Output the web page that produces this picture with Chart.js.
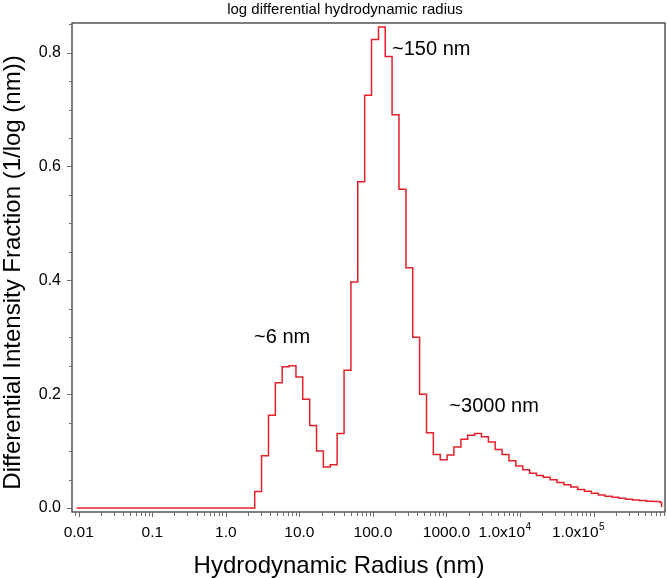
<!DOCTYPE html>
<html>
<head>
<meta charset="utf-8">
<title>log differential hydrodynamic radius</title>
<script src="https://cdn.jsdelivr.net/npm/chart.js@4"></script>
<style>
  html, body { margin: 0; padding: 0; background: #fff; }
  #chart { display: block; }
</style>
</head>
<body>
<canvas id="chart" width="667" height="578"></canvas>
<script>
// Bin start radius (nm) and the value held over that bin (step histogram)
const radius = [0.0094, 2.47, 3.06, 3.80, 4.71, 5.84, 7.24, 8.98, 11.1, 13.8, 17.1,
    21.2, 26.3, 32.6, 40.5, 50.2, 62.2, 77.2, 95.7, 119, 147,
    182, 226, 281, 348, 431, 535, 663, 822, 1020, 1260,
    1570, 1940, 2410, 2990, 3710, 4590, 5700, 7060, 8760, 10900,
    13500, 16700, 20700, 25700, 31800, 39500, 48900, 60700, 75200, 93300,
    116000, 143000, 178000, 220000, 273000, 339000, 420000, 521000, 646000, 801000,
    840000];
const intensity = [0, 0.029, 0.092, 0.163, 0.220, 0.248, 0.250, 0.230, 0.191, 0.145, 0.100,
    0.072, 0.076, 0.131, 0.242, 0.397, 0.573, 0.725, 0.823, 0.845, 0.793,
    0.691, 0.560, 0.422, 0.300, 0.200, 0.132, 0.094, 0.085, 0.093, 0.107,
    0.121, 0.128, 0.131, 0.125, 0.116, 0.103, 0.094, 0.083, 0.074, 0.067,
    0.061, 0.057, 0.054, 0.0495, 0.045, 0.041, 0.037, 0.0325, 0.0295, 0.026,
    0.0228, 0.0208, 0.019, 0.017, 0.0155, 0.0142, 0.013, 0.012, 0.0113, 0.0097,
    0.002];

const yTicks = [0, 0.2, 0.4, 0.6, 0.8];
const yTickLabels = ['0.0', '0.2', '0.4', '0.6', '0.8'];
const yMinorStep = 0.05;
const xTicks = [0.01, 0.1, 1, 10, 100, 1000, 10000, 100000];
const xTickLabels = ['0.01', '0.1', '1.0', '10.0', '100.0', '1000.0', '1.0x10', '1.0x10'];
const xTickPowers = ['', '', '', '', '', '', '4', '5'];

// peak notes, anchored in data units (left end / baseline of the text)
const noteText = ['~6 nm', '~150 nm', '~3000 nm'];
const noteX = [2.42, 182, 1094];
const noteY = [0.29, 0.796, 0.168];

const FONT = '"Liberation Sans", Arial, Helvetica, sans-serif';

// Module: frame, ticks, labels and titles
const decorPlugin = {
    id: 'decor',
    afterDraw(chart) {
        const ctx = chart.ctx;
        const area = chart.chartArea;
        const xs = chart.scales.x;
        const ys = chart.scales.y;
        ctx.save();

        // box round the plot
        ctx.strokeStyle = '#3a3a3a';
        ctx.lineWidth = 1.3;
        ctx.strokeRect(area.left, area.top, area.right - area.left, area.bottom - area.top);

        // y ticks (major + minor)
        ctx.strokeStyle = '#6a6a6a';
        ctx.lineWidth = 1;
        for (let v = 0; v <= ys.max + 1e-9; v += yMinorStep) {
            const y = Math.round(ys.getPixelForValue(v)) + 0.5;
            const major = yTicks.some(t => Math.abs(t - v) < 1e-6);
            ctx.beginPath();
            ctx.moveTo(area.left - (major ? 5 : 3), y);
            ctx.lineTo(area.left, y);
            ctx.stroke();
        }

        // x ticks, 1..9 in every decade
        for (let e = -3; e <= 6; e++) {
            for (let m = 1; m <= 9; m++) {
                const v = m * Math.pow(10, e);
                if (v < xs.min || v > xs.max) continue;
                const x = Math.round(xs.getPixelForValue(v)) + 0.5;
                ctx.beginPath();
                ctx.moveTo(x, area.bottom);
                ctx.lineTo(x, area.bottom + (m === 1 ? 5 : 4));
                ctx.stroke();
            }
        }

        // x tick labels
        ctx.fillStyle = '#000';
        ctx.textBaseline = 'alphabetic';
        xTicks.forEach((v, i) => {
            const x = xs.getPixelForValue(v);
            const y = area.bottom + 25;
            ctx.font = '15.5px ' + FONT;
            if (xTickPowers[i]) {
                ctx.textAlign = 'right';
                ctx.fillText(xTickLabels[i], x + 5, y);
                ctx.textAlign = 'left';
                ctx.font = '10px ' + FONT;
                ctx.fillText(xTickPowers[i], x + 5.5, y - 7);
            } else {
                ctx.textAlign = 'center';
                ctx.fillText(xTickLabels[i], x, y);
            }
        });

        // peak notes
        ctx.font = '20px ' + FONT;
        ctx.textAlign = 'left';
        noteText.forEach((t, i) => {
            ctx.fillText(t, xs.getPixelForValue(noteX[i]), ys.getPixelForValue(noteY[i]));
        });

        // titles
        ctx.textAlign = 'center';
        ctx.font = '15px ' + FONT;
        ctx.fillText('log differential hydrodynamic radius', area.left + 273, 14);
        ctx.font = '24px ' + FONT;
        ctx.fillText('Hydrodynamic Radius (nm)', area.left + 267, chart.height - 5);
        ctx.translate(20, (area.top + area.bottom) / 2 + 5);
        ctx.rotate(-Math.PI / 2);
        ctx.fillText('Differential Intensity Fraction (1/log (nm))', 0, 0);
        ctx.restore();
    }
};

// Module: chart
const points = radius.map((r, i) => ({ x: r, y: intensity[i] }));

new Chart(document.getElementById('chart').getContext('2d'), {
    type: 'line',
    data: {
        datasets: [{
            data: points,
            stepped: 'before',
            borderColor: '#e3202a',
            borderWidth: 1.5,
            pointRadius: 0,
            fill: false
        }]
    },
    options: {
        responsive: false,
        animation: false,
        devicePixelRatio: 1,
        layout: { padding: { left: 0, right: 2, top: 23, bottom: 0 } },
        plugins: { legend: { display: false }, tooltip: { enabled: false }, title: { display: false } },
        scales: {
            x: {
                type: 'logarithmic',
                min: 0.0081,
                max: 935000,
                grid: { display: false },
                border: { display: false },
                ticks: { display: false },
                afterFit: s => { s.height = 66; }
            },
            y: {
                type: 'linear',
                min: -0.007,
                max: 0.852,
                grid: { display: false, drawTicks: false },
                border: { display: false },
                afterBuildTicks: s => { s.ticks = yTicks.map(v => ({ value: v })); },
                ticks: {
                    padding: 11,
                    color: '#000',
                    font: { family: FONT, size: 16 },
                    callback: (v, i) => yTickLabels[i]
                },
                afterFit: s => { s.width = 72; }
            }
        }
    },
    plugins: [decorPlugin]
});
</script>
</body>
</html>
